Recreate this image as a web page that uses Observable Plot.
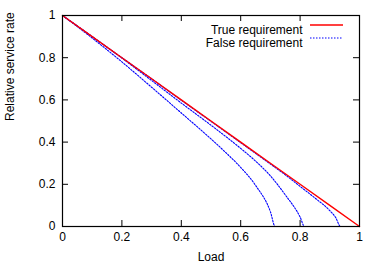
<!DOCTYPE html>
<html>
<head>
<meta charset="utf-8">
<script src="https://cdn.jsdelivr.net/npm/d3@7"></script>
<script src="https://cdn.jsdelivr.net/npm/@observablehq/plot@0.6"></script>
<style>
  html, body { margin: 0; padding: 0; background: #fff; }
  svg { display: block; }
</style>
</head>
<body>
<div id="chart"></div>
<script>
// Data
const trueLoad = [0, 0.1, 0.2, 0.3, 0.4, 0.5, 0.6, 0.7, 0.8, 0.9, 1];
const trueRate = [1, 0.9, 0.8, 0.7, 0.6, 0.5, 0.4, 0.3, 0.2, 0.1, 0];

const false1Load = [0, 0.1, 0.2, 0.3, 0.4, 0.5, 0.55, 0.6, 0.65, 0.7, 0.716, 1];
const false1Rate = [1, 0.893, 0.78, 0.66, 0.538, 0.415, 0.35, 0.28, 0.195, 0.07, 0, 0];

const false2Load = [0, 0.1, 0.2, 0.3, 0.4, 0.5, 0.6, 0.65, 0.7, 0.75, 0.8, 0.815, 1];
const false2Rate = [1, 0.9, 0.798, 0.692, 0.585, 0.48, 0.37, 0.31, 0.24, 0.15, 0.045, 0, 0];

const false3Load = [0, 0.1, 0.2, 0.3, 0.4, 0.5, 0.6, 0.7, 0.75, 0.8, 0.85, 0.9, 0.92, 0.936, 1];
const false3Rate = [1, 0.9, 0.8, 0.7, 0.598, 0.498, 0.397, 0.296, 0.245, 0.19, 0.135, 0.075, 0.042, 0, 0];

const xTicks = [0, 0.2, 0.4, 0.6, 0.8, 1];
const yTicks = [0, 0.2, 0.4, 0.6, 0.8, 1];
const xTickLabels = ["0", "0.2", "0.4", "0.6", "0.8", "1"];
const yTickLabels = ["0", "0.2", "0.4", "0.6", "0.8", "1"];
const seriesNames = ["True requirement", "False requirement"];
const seriesColors = ["#ff0000", "#0000ff"];

const toRows = (xs, ys, s) => xs.map((x, i) => ({x, y: ys[i], s}));
const trueRows = toRows(trueLoad, trueRate, "true");
const falseRows = [
  ...toRows(false1Load, false1Rate, "f1"),
  ...toRows(false2Load, false2Rate, "f2"),
  ...toRows(false3Load, false3Rate, "f3")
];

const W = 382, H = 267;
const mL = 62, mR = 23, mT = 15, mB = 41;
const plotH = H - mT - mB, plotW = W - mL - mR;
const tick = 6;
const font = "Liberation Sans, Arial, Helvetica, sans-serif";

const chart = Plot.plot({
  width: W,
  height: H,
  marginLeft: mL,
  marginRight: mR,
  marginTop: mT,
  marginBottom: mB,
  style: {fontFamily: font, fontSize: "12px", color: "#000", background: "#fff"},
  x: {domain: [0, 1]},
  y: {domain: [0, 1]},
  marks: [
    Plot.axisX(xTicks, {tickSize: 0, tickPadding: 6, tickFormat: (d, i) => xTickLabels[i], fontSize: 12, label: null}),
    Plot.axisY(yTicks, {tickSize: 0, tickPadding: 7, tickFormat: (d, i) => yTickLabels[i], fontSize: 12, label: null}),
    // inward ticks (mirrored)
    Plot.ruleX(xTicks, {x: d => d, insetTop: plotH - tick, stroke: "#000"}),
    Plot.ruleX(xTicks, {x: d => d, insetBottom: plotH - tick, stroke: "#000"}),
    Plot.ruleY(yTicks, {y: d => d, insetRight: plotW - tick, stroke: "#000"}),
    Plot.ruleY(yTicks, {y: d => d, insetLeft: plotW - tick, stroke: "#000"}),
    Plot.line(falseRows, {x: "x", y: "y", z: "s", curve: "monotone-x", stroke: seriesColors[1], strokeWidth: 1.1, strokeDasharray: "1.5,1.5"}),
    Plot.line(trueRows, {x: "x", y: "y", stroke: seriesColors[0], strokeWidth: 1.4}),
    Plot.frame({stroke: "#000", strokeWidth: 1.2}),
    // axis titles
    Plot.text(["Load"], {frameAnchor: "bottom", dy: 34, text: d => d, fontSize: 12}),
    Plot.text(["Relative service rate"], {frameAnchor: "left", dx: -52, rotate: -90, text: d => d, fontSize: 12}),
    // legend labels
    Plot.text([seriesNames[0]], {frameAnchor: "top-right", textAnchor: "end", dx: -57, dy: 10, text: d => d, fontSize: 12}),
    Plot.text([seriesNames[1]], {frameAnchor: "top-right", textAnchor: "end", dx: -57, dy: 23, text: d => d, fontSize: 12})
  ]
});

// Legend sample lines
const svg = d3.select(chart);
const lg = svg.append("g");
seriesNames.forEach((name, i) => {
  lg.append("line")
    .attr("x1", 310).attr("x2", 343)
    .attr("y1", 25 + i * 13).attr("y2", 25 + i * 13)
    .attr("stroke", seriesColors[i])
    .attr("stroke-width", i === 0 ? 1.4 : 1.1)
    .attr("stroke-dasharray", i === 0 ? null : "1.5,1.5");
});

document.getElementById("chart").appendChild(chart);
</script>
</body>
</html>
